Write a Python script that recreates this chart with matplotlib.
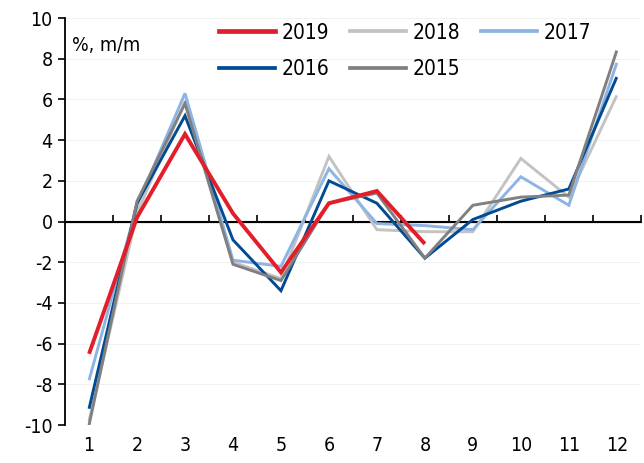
import matplotlib.pyplot as plt
from matplotlib.lines import Line2D

months = list(range(1, 13))
month_labels = [str(m) for m in months]

y2019 = [-6.5, 0.2, 4.3, 0.4, -2.5, 0.9, 1.5, -1.1]
y2018 = [-9.8, 0.4, 5.9, -2.0, -2.8, 3.2, -0.4, -0.5, -0.5, 3.1, 1.2, 6.2]
y2017 = [-7.8, 0.8, 6.3, -1.9, -2.2, 2.6, -0.1, -0.2, -0.4, 2.2, 0.8, 7.8]
y2016 = [-9.2, 0.9, 5.2, -0.9, -3.4, 2.0, 0.9, -1.8, 0.1, 1.0, 1.6, 7.1]
y2015 = [-10.0, 1.0, 5.8, -2.1, -2.9, 0.9, 1.4, -1.8, 0.8, 1.2, 1.3, 8.4]

series = [
    ("2018", y2018, "#c3c3c3", 2.1, 2),
    ("2017", y2017, "#8db4e2", 2.1, 3),
    ("2016", y2016, "#004b93", 2.1, 4),
    ("2015", y2015, "#808080", 2.1, 5),
    ("2019", y2019, "#e31e2b", 2.8, 6),
]
# legend fills column by column; this gives rows 2019 2018 2017 / 2016 2015
legend_order = ["2019", "2016", "2018", "2015", "2017"]

plt.rcParams["font.family"] = ["Liberation Sans Narrow", "DejaVu Sans"]
plt.rcParams["font.stretch"] = "condensed"
plt.rcParams["font.size"] = 13
plt.rcParams["axes.unicode_minus"] = False

fig = plt.figure(figsize=(6.44, 4.63), dpi=100)
ax = fig.add_axes([0.101, 0.082, 0.894, 0.879])

handles = {}
for name, vals, color, lw, z in series:
    ax.plot(months[: len(vals)], vals, color=color, lw=lw, zorder=z,
            solid_joinstyle="miter", solid_capstyle="butt")
    handles[name] = Line2D([], [], color=color, lw=lw + 0.6)

ax.set_xlim(0.5, 12.5)
ax.set_ylim(-10, 10)
ax.set_yticks(range(-10, 11, 2))
ax.set_xticks(months)
ax.set_xticklabels(month_labels)
ax.tick_params(axis="x", length=0, pad=8, labelsize=14)
ax.tick_params(axis="y", length=5, width=1.2, direction="out", labelsize=14, pad=4)
ax.grid(axis="y", color="#efefef", lw=0.6)
ax.set_axisbelow(True)

for side in ("top", "right", "bottom"):
    ax.spines[side].set_visible(False)
ax.spines["left"].set_linewidth(1.3)

ax.axhline(0, color="black", lw=1.5, zorder=1.5)
zero = ax.secondary_xaxis(0.5)
zero.set_xticks([m + 0.5 for m in months])
zero.set_xticklabels([])
zero.tick_params(axis="x", direction="out", length=5, width=1.2, color="black")
zero.spines["bottom"].set_visible(False)

ax.text(0.012, 0.955, "%, m/m", transform=ax.transAxes, ha="left", va="top", fontsize=14)

ax.legend([handles[n] for n in legend_order], legend_order, ncol=3, frameon=False,
          loc="upper left", bbox_to_anchor=(0.235, 1.035), handlelength=2.7,
          handletextpad=0.3, columnspacing=1.0, labelspacing=0.8, fontsize=15)

fig.savefig("out.png", dpi=100)
